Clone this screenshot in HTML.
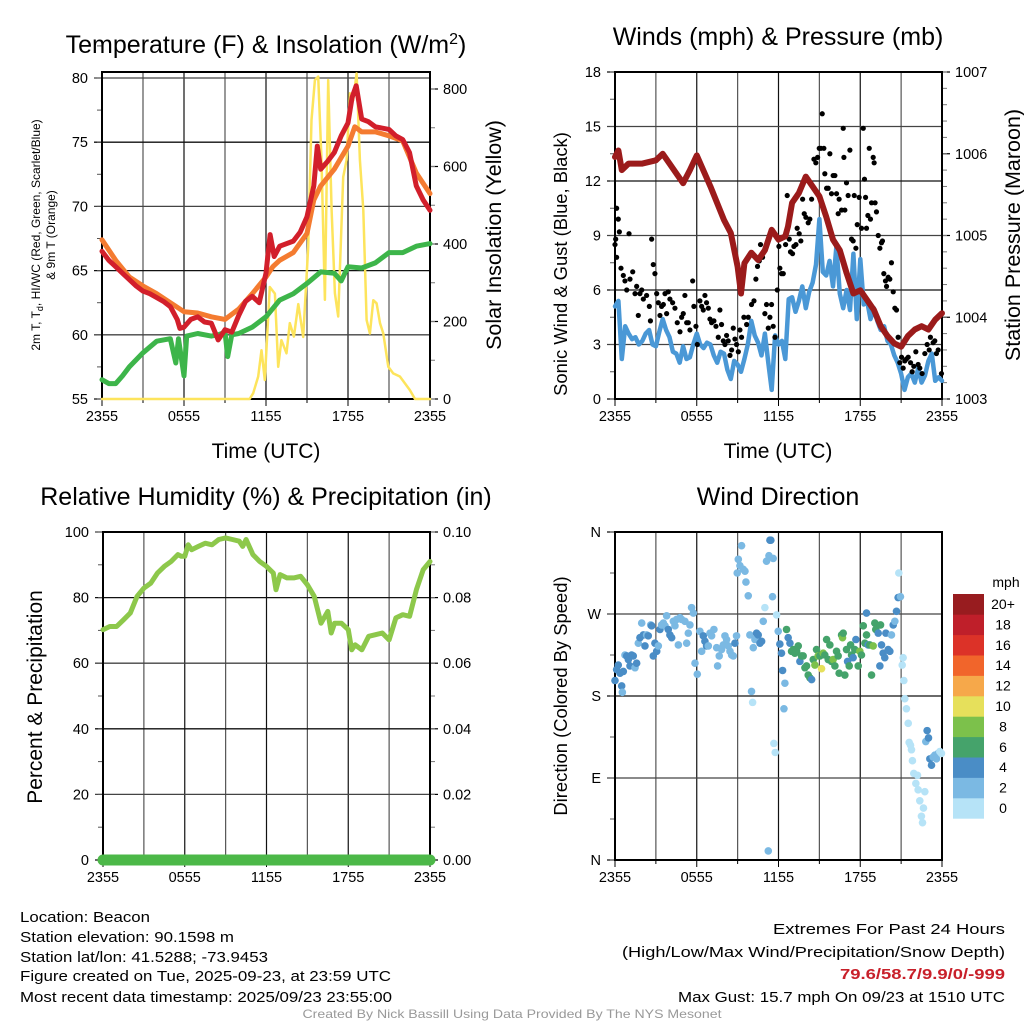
<!DOCTYPE html>
<html><head><meta charset="utf-8"><style>
html,body{margin:0;padding:0;background:#fff;}
svg{display:block;font-family:"Liberation Sans",Arial,sans-serif;}
</style></head><body>
<svg id="fig" xmlns="http://www.w3.org/2000/svg" width="1024" height="1024" viewBox="0 0 1024 1024">
<rect x="0" y="0" width="1024" height="1024" fill="#fff"/>
<g id="layer"></g>
<!-- titles -->
<text x="266" y="53" font-size="25" text-anchor="middle">Temperature (F) &amp; Insolation (W/m<tspan dy="-9" font-size="16">2</tspan><tspan dy="9">)</tspan></text>
<text x="778" y="45" font-size="25" text-anchor="middle">Winds (mph) &amp; Pressure (mb)</text>
<text x="266" y="505" font-size="25" text-anchor="middle">Relative Humidity (%) &amp; Precipitation (in)</text>
<text x="778" y="505" font-size="25" text-anchor="middle">Wind Direction</text>
<!-- axis titles -->
<text x="266" y="458" font-size="21" text-anchor="middle">Time (UTC)</text>
<text x="778" y="458" font-size="21" text-anchor="middle">Time (UTC)</text>
<text transform="translate(40,235) rotate(-90)" font-size="12" text-anchor="middle">2m T, T<tspan dy="3" font-size="9">d</tspan><tspan dy="-3">, HI/WC (Red, Green, Scarlet/Blue)</tspan></text>
<text transform="translate(55,235) rotate(-90)" font-size="12" text-anchor="middle">&amp; 9m T (Orange)</text>
<text transform="translate(501,235) rotate(-90)" font-size="21.5" text-anchor="middle">Solar Insolation (Yellow)</text>
<text transform="translate(567,264) rotate(-90)" font-size="18.4" text-anchor="middle">Sonic Wind &amp; Gust (Blue, Black)</text>
<text transform="translate(1020,235) rotate(-90)" font-size="21.5" text-anchor="middle">Station Pressure (Maroon)</text>
<text transform="translate(42,697) rotate(-90)" font-size="21" text-anchor="middle">Percent &amp; Precipitation</text>
<text transform="translate(567,696) rotate(-90)" font-size="18.4" text-anchor="middle">Direction (Colored By Speed)</text>
<!-- colorbar label -->
<text x="1006" y="587" font-size="14" text-anchor="middle">mph</text>
<!-- footer -->
<g font-size="15">
<text x="20" y="922" textLength="130" lengthAdjust="spacingAndGlyphs">Location: Beacon</text>
<text x="20" y="942" textLength="214" lengthAdjust="spacingAndGlyphs">Station elevation: 90.1598 m</text>
<text x="20" y="962" textLength="248" lengthAdjust="spacingAndGlyphs">Station lat/lon: 41.5288; -73.9453</text>
<text x="20" y="981" textLength="371" lengthAdjust="spacingAndGlyphs">Figure created on Tue, 2025-09-23, at 23:59 UTC</text>
<text x="20" y="1002" textLength="372" lengthAdjust="spacingAndGlyphs">Most recent data timestamp: 2025/09/23 23:55:00</text>
</g>
<g font-size="15" text-anchor="end">
<text x="1005" y="934" textLength="232" lengthAdjust="spacingAndGlyphs">Extremes For Past 24 Hours</text>
<text x="1005" y="957" textLength="383" lengthAdjust="spacingAndGlyphs">(High/Low/Max Wind/Precipitation/Snow Depth)</text>
<text x="1005" y="979" textLength="165" lengthAdjust="spacingAndGlyphs" fill="#c8202a" font-weight="bold">79.6/58.7/9.9/0/-999</text>
<text x="1005" y="1002" textLength="327" lengthAdjust="spacingAndGlyphs">Max Gust: 15.7 mph On 09/23 at 1510 UTC</text>
</g>
<text x="512" y="1018" font-size="12" fill="#999" text-anchor="middle" textLength="419" lengthAdjust="spacingAndGlyphs">Created By Nick Bassill Using Data Provided By The NYS Mesonet</text>
</svg>
<script>
// ---------------- DATA ----------------
const xTickLabels = ["2355","0555","1155","1755","2355"];
const tempTicks = [55,60,65,70,75,80];
const insolTicks = [0,200,400,600,800];
const windTicks = [0,3,6,9,12,15,18];
const presTicks = [1003,1004,1005,1006,1007];
const rhTicks = [0,20,40,60,80,100];
const precipTickLabels = ["0.00","0.02","0.04","0.06","0.08","0.10"];
const dirTicks = [0,90,180,270,360];
const dirTickLabels = ["N","E","S","W","N"];
const speedBins = ["0","2","4","6","8","10","12","14","16","18","20+"];
const speedColors = ["#b6e3f7","#7bb9e3","#4a8dc6","#45a36b","#7cc14b","#e6e05b","#f6a84a","#f1652b","#dc3228","#bf1f2a","#981c1f"];

const tempHours = [0,0.5,1,1.5,2,2.5,3,3.5,4,4.5,5,5.5,5.7,6,6.5,7,7.5,8,8.5,9,9.5,10,10.5,11,11.5,12,12.3,12.6,13,14,14.5,15,15.5,15.75,16,16.5,17,17.5,18,18.3,18.6,19,19.5,20,21,21.5,22,22.5,23,23.5,24];
const tempValues = [66.5,65.8,65.3,64.8,64.3,63.8,63.4,63.2,62.9,62.6,62.2,61.2,60.5,60.6,61.2,61.4,61.0,60.9,59.6,60.4,60.2,61.5,62.6,63.0,62.5,64.8,67.8,66.1,66.9,67.3,68.0,69.2,71.6,74.7,72.9,73.5,74.2,75.5,76.5,78.5,79.4,76.8,76.6,76.2,76.0,75.5,75.2,74.2,71.6,70.5,69.7];
const temp9Hours = [0,1,2,3,4,5,6,7,8,9,10,11,12,12.5,13,14,15,15.5,16,17,18,18.5,19,20,21,22,23,24];
const temp9Values = [67.4,65.8,64.5,63.8,63.2,62.5,61.8,61.7,61.4,61.2,62.0,63.2,64.5,65.3,65.8,66.4,67.9,70.5,71.6,72.9,74.7,76.2,75.8,75.8,75.5,75.1,72.6,71.0];
const dewHours = [0,0.5,1,1.5,2,3,4,5,5.4,5.6,6,6.2,7,8,8.5,9,9.2,9.5,10,11,12,13,14,15,16,17,17.5,18,19,20,21,22,23,24];
const dewValues = [56.5,56.2,56.2,56.8,57.5,58.6,59.5,59.7,57.8,59.7,56.8,59.9,60.1,59.9,60.0,60.2,58.3,60.0,60.1,60.6,61.4,62.7,63.2,64.0,64.9,64.8,64.2,65.3,65.2,65.6,66.4,66.4,66.9,67.1];
const insolHours = [0,10.8,11.06,11.43,11.67,11.91,12.28,12.65,12.89,13.13,13.5,13.74,14.04,14.36,14.72,15.09,15.33,15.58,15.82,16.06,16.31,16.55,16.8,17.04,17.28,17.65,17.9,18.14,18.38,18.63,18.87,19.12,19.36,19.6,19.85,20.09,20.34,20.58,20.95,21.31,21.8,22.53,22.9,24];
const insolValues = [0,0,15,58,126,49,289,272,83,152,118,196,161,245,160,392,720,823,832,617,256,823,488,273,213,573,617,789,771,840,617,488,204,169,255,247,196,169,83,66,58,23,0,0];

const windSpeed = [5.1,5.4,2.2,4.0,3.6,3.3,3.4,3.0,
3.2,3.6,3.8,3.0, 2.9,3.7,4.4,3.8, 3.4,2.6,2.5,2.0, 2.9,2.2,2.3,3.0,
3.6,3.0,2.8,3.1, 3.0,2.4,2.0,2.6, 2.5,1.6,1.1,2.1, 1.9,1.5,2.2,3.0,
4.3,3.5,3.1,2.4, 3.6,2.0,0.5,3.5, 3.0,3.2,2.2,5.5, 5.6,4.8,5.4,6.2,
5.0,5.9,6.4,7.4, 9.9,7.0,6.8,7.6, 6.2,8.4,5.8,5.0, 6.0,4.9,8.0,4.4,
7.7,5.2,5.4,4.4, 5.0,4.3,3.8,4.0, 3.2,3.0,2.4,2.0, 1.4,0.5,1.2,1.4,
0.9,1.7,0.9,1.3, 2.1,2.5,1.0,1.2, 1.0];
const windStepHours = 0.25;

const gustHours = [0,0.05,0.12,0.24,0.32,0.12,0.44,0.61,0.73,0.86,
1.03,1.1,1.3,1.47,1.59,1.71,1.83,1.96,2.08,2.32,
2.52,2.6,2.69,2.81,2.93,3.06,3.18,3.3,3.42,3.55,
3.67,3.79,3.91,4.03,4.23,4.4,4.57,4.77,4.89,5.01,
5.13,5.26,5.38,5.5,5.7,5.79,5.94,6.04,6.23,6.36,
6.48,6.6,6.72,6.85,6.97,7.09,7.26,7.41,7.58,7.7,
7.82,7.95,8.07,8.19,8.31,8.44,8.56,8.68,8.8,8.92,
9.05,9.17,9.29,9.46,9.66,9.78,10.02,10.2,10.34,10.46,
10.59,10.68,10.83,11.0,11.12,11.25,11.37,11.49,11.61,11.74,
11.91,12.03,12.1,12.22,12.35,12.52,12.64,12.79,12.88,13.03,
13.13,13.28,13.37,13.52,13.64,13.77,13.89,14.01,14.18,14.3,
14.43,14.6,14.74,14.87,14.99,15.11,15.21,15.33,15.4,15.53,
15.65,15.77,15.89,16.01,16.14,16.26,16.38,16.45,16.63,16.75,
16.8,16.87,16.99,17.11,17.24,17.36,17.48,17.56,17.68,17.78,
17.92,18.09,18.22,18.31,18.39,18.46,18.56,18.66,18.75,18.83,
18.95,19.02,19.09,19.19,19.32,19.44,19.56,19.63,19.73,19.85,
19.93,20.05,20.17,20.29,20.42,20.54,20.66,20.78,20.9,21.03,
21.15,21.27,21.39,21.52,21.69,21.81,21.93,22.08,22.25,22.37,
22.54,22.74,22.91,23.06,23.15,23.35,23.47,23.59,23.72,23.96];
const gustValues = [8.5,8.8,10.5,9.9,9.2,7.8,7.2,6.8,6.5,6.0,
9.1,6.6,7.0,5.8,6.2,4.6,5.8,6.0,5.5,5.7,
5.1,4.3,8.8,7.4,6.9,5.8,5.3,4.6,5.1,5.2,
5.8,4.7,5.9,5.5,5.3,5.0,4.2,3.7,4.5,4.7,
5.7,4.2,4.2,3.8,6.5,5.1,4.0,3.0,5.4,5.1,
4.9,5.7,5.3,5.0,4.4,4.2,4.3,4.0,3.4,4.9,
4.1,3.2,3.0,3.5,3.2,2.4,2.7,3.9,3.3,3.0,
2.6,3.8,3.4,4.5,4.1,4.5,5.2,5.4,6.6,7.3,
7.6,8.5,7.8,4.7,5.2,3.9,4.5,5.2,4.0,3.4,
6.0,8.4,7.2,6.9,6.9,8.5,11.2,8.8,8.1,8.0,
8.4,8.5,9.4,9.1,8.7,11.0,10.2,10.0,9.7,9.9,
11.0,13.2,13.0,13.3,13.8,13.8,15.7,13.8,12.4,11.6,
11.6,13.5,11.3,12.3,12.3,11.3,10.2,11.0,10.4,14.9,
13.3,10.4,11.9,11.2,13.7,8.8,8.7,11.2,8.3,9.6,
11.1,9.4,14.9,12.1,11.1,9.4,10.1,13.8,9.9,10.8,
13.3,13.0,10.8,10.3,9.0,8.3,8.6,8.7,6.9,6.5,
6.2,6.7,6.6,7.5,5.9,5.0,4.9,3.4,2.0,2.3,
1.7,2.1,2.2,2.3,2.0,1.5,1.8,2.6,1.9,1.7,
1.4,2.5,3.0,2.7,3.4,3.1,3.2,2.5,2.7,1.4];

const presHours = [0,0.25,0.5,1,2,3,3.5,4,5,5.5,6,7,8,8.5,9,9.25,9.5,10,10.5,11,11.5,12,12.5,12.7,13,13.5,14,14.5,15,15.5,16,16.5,17,17.5,18,18.5,19,19.5,20,20.5,21,21.5,22,22.5,23,23.5,24];
const presValues = [1005.96,1006.04,1005.8,1005.88,1005.88,1005.92,1006.0,1005.88,1005.64,1005.8,1005.98,1005.6,1005.19,1005.03,1004.62,1004.29,1004.66,1004.79,1004.7,1004.82,1005.07,1004.95,1004.99,1005.11,1005.4,1005.52,1005.72,1005.6,1005.48,1005.23,1004.95,1004.82,1004.54,1004.29,1004.33,1004.21,1004.09,1003.89,1003.77,1003.68,1003.64,1003.77,1003.85,1003.89,1003.85,1003.97,1004.05];

const rhHours = [0,0.5,1,1.5,2,2.5,3,3.5,4,4.5,5,5.5,5.75,6,6.25,6.5,7,7.5,8,8.5,9,9.5,10,10.25,10.5,11,11.5,12,12.5,12.7,13,13.5,14,14.5,15,15.5,16,16.5,16.75,17,17.5,18,18.25,18.5,19,19.5,20,20.5,21,21.5,22,22.5,23,23.5,24];
const rhValues = [70.2,71.2,71.2,73.2,75.3,80.4,82.9,84.4,87.5,89.5,91.0,93.1,92.6,92.6,96.1,94.6,95.6,96.6,96.1,97.7,98.2,97.7,97.2,95.6,97.7,93.1,91.0,89.5,87.5,82.4,87.0,86.0,86.0,86.5,83.9,80.4,72.2,75.8,69.2,72.2,72.2,70.2,64.1,65.6,64.1,68.2,68.7,69.2,67.1,73.8,74.8,74.3,82.4,88.5,91.0];
const precipHours = [0,24];
const precipValues = [0,0];

const dirHours = [0,0.12,0.24,0.37,0.49,0.54,0.61,0.73,0.86,0.98,
1.1,1.22,1.34,1.47,1.59,1.71,1.83,1.96,2.08,2.2,
2.32,2.44,2.62,2.69,2.81,2.93,3.06,3.18,3.3,3.42,
3.55,3.67,3.79,3.91,4.03,4.16,4.28,4.4,4.52,4.65,
4.77,4.89,5.13,5.26,5.38,5.5,5.62,5.75,5.87,6.04,
6.23,6.36,6.48,6.6,6.72,6.85,6.97,7.09,7.26,7.46,
7.53,7.65,7.82,7.95,8.07,8.19,8.31,8.44,8.56,8.68,
8.8,8.92,8.97,9.05,9.17,9.29,9.41,9.54,9.61,9.78,
9.9,10.02,10.1,10.15,10.27,10.39,10.51,10.64,10.76,10.88,
11.0,11.12,11.25,11.3,11.37,11.44,11.56,11.61,11.66,11.76,
11.86,11.98,12.1,12.22,12.3,12.4,12.47,12.59,12.71,12.84,
12.96,13.08,13.2,13.33,13.45,13.57,13.69,13.81,13.94,14.06,
14.18,14.3,14.43,14.55,14.67,14.79,14.91,15.04,15.16,15.28,
15.4,15.53,15.65,15.77,15.89,16.01,16.14,16.26,16.38,16.45,
16.63,16.7,16.75,16.87,16.99,17.07,17.19,17.29,17.36,17.48,
17.6,17.68,17.85,17.97,18.09,18.22,18.34,18.46,18.46,18.58,
18.7,18.83,18.95,19.07,19.14,19.32,19.44,19.49,19.56,19.68,
19.8,19.88,20.05,20.17,20.29,20.42,20.54,20.66,20.78,20.83,
20.95,21.08,21.15,21.2,21.27,21.39,21.52,21.59,21.69,21.76,
21.83,21.93,22.08,22.2,22.25,22.37,22.49,22.57,22.64,22.74,
22.81,22.91,23.01,23.11,23.23,23.35,23.47,23.59,23.72,23.84,
23.96];
const dirDegrees = [197,209,214,205,191,184,207,225,224,220,
213,225,224,211,216,238,244,260,247,235,
247,246,258,257,224,238,229,235,253,258,
260,257,268,253,247,244,262,257,264,236,
266,264,262,238,249,258,277,271,216,204,
251,229,246,240,235,235,249,246,253,233,
213,224,231,236,246,242,235,229,225,224,
238,246,315,330,323,345,319,317,305,290,
247,185,173,233,242,249,247,238,240,262,
277,328,10,334,351,351,289,331,128,118,
269,251,237,227,208,166,194,253,244,238,
229,231,227,229,235,218,224,224,211,213,
203,200,198,220,214,231,224,224,210,227,
225,242,220,236,218,220,213,229,224,205,
247,244,249,203,231,218,213,236,225,222,
231,242,213,229,225,257,238,271,247,236,
236,203,235,260,253,249,213,258,236,227,
222,249,231,229,247,258,262,273,288,315,
289,214,222,197,177,166,150,129,126,121,
109,95,84,93,77,65,48,41,57,75,
130,142,134,111,104,113,115,111,117,119,
117];
const dirSpeeds = [5,5,5,5,5,3,5,3,5,5,
5,5,5,3,5,3,5,3,5,5,
3,5,3,5,5,5,5,3,5,3,
3,3,3,5,5,5,3,3,3,3,
3,3,3,3,3,3,3,3,3,3,
3,3,5,5,5,3,3,3,3,3,
3,3,3,3,3,3,3,3,3,3,
5,3,3,3,3,3,3,3,3,3,
3,3,1,3,3,5,5,5,5,3,
1,3,3,3,5,5,3,3,1,1,
1,3,5,5,5,3,3,7,5,5,
7,7,7,7,7,5,7,7,7,7,
7,7,5,7,9,7,9,7,10.5,9,
7,7,7,7,7,9,7,7,7,7,
7,9,7,7,7,5,7,7,7,5,
7,5,7,9,7,7,7,5,7,5,
7,7,9,7,7,5,5,7,5,5,
5,5,5,5,3,5,3,5,5,1,
3,1,1,1,1,1,1,1,1,1,
1,1,1,1,1,1,1,1,1,1,
3,5,5,5,5,3,3,3,3,1,
1];

// ---------------- HELPERS ----------------
const NS = "http://www.w3.org/2000/svg";
const layer = document.getElementById("layer");
function mk(tag, parent){ const e = document.createElementNS(NS, tag); (parent||layer).appendChild(e); return e; }
function setA(e, o){ for (const k in o) e.setAttribute(k, o[k]); return e; }
function linScale(d0,d1,r0,r1){ return v => r0 + (v-d0)/(d1-d0)*(r1-r0); }
function pathFrom(xs, ys, sx, sy){ let d=""; for(let i=0;i<xs.length;i++){ d += (i?"L":"M")+sx(xs[i]).toFixed(1)+","+sy(ys[i]).toFixed(1);} return d; }
function colorFor(s){ let i=Math.floor(s/2); if(i<0)i=0; if(i>10)i=10; return speedColors[i]; }

function drawFrame(p){
  const g = mk("g");
  
  
  for (let h=0; h<=24; h+=3){
    const l = mk("line", g); const x = p.sx(h);
    setA(l,{x1:x,x2:x,y1:p.top,y2:p.bottom,stroke:(h%6===0)?"#111":"#555","stroke-width":(h===0||h===24)?2:1.2});
    
    
    const t = mk("line", g);
    setA(t,{x1:x,x2:x,y1:p.bottom,y2:p.bottom+(h%6===0?7:4),stroke:"#000","stroke-width":1});
    
    
  }
  xTickLabels.forEach((lab,i)=>{
    const t = mk("text", g);
    setA(t,{x:p.sx(i*6),y:p.bottom+22,"font-size":14.5,"text-anchor":"middle"});
    t.textContent = lab;
    
    
  });
  p.lticks.forEach((v,i)=>{
    const y = p.sy(v);
    const l = mk("line", g);
    setA(l,{x1:p.left-8,x2:p.right,y1:y,y2:y,stroke:(i%2)?"#444":"#111","stroke-width":1.3});
    
    
    const t = mk("text", g);
    setA(t,{x:p.left-14,y:y+5,"font-size":14.5,"text-anchor":"end"});
    t.textContent = p.llabels ? p.llabels[i] : String(v);
    
    
  });
  for (let v=p.lmin; v<=p.lmax+1e-9; v+=p.lminor){
    const y=p.sy(v); const l=mk("line",g);
    setA(l,{x1:p.left-5,x2:p.left,y1:y,y2:y,stroke:"#555","stroke-width":1});
    
    
  }
  if (p.ry){
    p.rticks.forEach((v,i)=>{
      const y=p.ry(v); const l=mk("line",g);
      setA(l,{x1:p.right,x2:p.right+8,y1:y,y2:y,stroke:"#000","stroke-width":1.2});
      
      
      const t=mk("text",g);
      setA(t,{x:p.right+13,y:y+5,"font-size":14.5});
      t.textContent = p.rlabels ? p.rlabels[i] : String(v);
      
      
    });
    for (let v=p.rmin; v<=p.rmax+1e-9; v+=p.rminor){
      const y=p.ry(v); const l=mk("line",g);
      setA(l,{x1:p.right,x2:p.right+5,y1:y,y2:y,stroke:"#777","stroke-width":1});
      
      
    }
  }
  const b = mk("rect", g);
  setA(b,{x:p.left,y:p.top,width:p.right-p.left,height:p.bottom-p.top,fill:"none",stroke:"#000","stroke-width":2});
  
  
  return g;
}
function drawLine(xs, ys, sx, sy, color, w, name){
  const p = mk("path");
  setA(p,{d:pathFrom(xs,ys,sx,sy),fill:"none",stroke:color,"stroke-width":w,"stroke-linejoin":"round","stroke-linecap":"round"});
  
  
  return p;
}

// ---------------- PANEL 1 ----------------
const p1 = {name:"temperature-panel", left:102, right:430, top:72, bottom:399};
p1.sx = linScale(0,24,p1.left,p1.right);
p1.sy = linScale(55,80,399,78);
p1.ry = linScale(0,800,399,89);
p1.lticks = tempTicks; p1.lmin=55; p1.lmax=82.5; p1.lminor=2.5;
p1.rticks = insolTicks; p1.rmin=0; p1.rmax=800; p1.rminor=100;
drawFrame(p1);
drawLine(insolHours, insolValues, p1.sx, p1.ry, "#fde45c", 2.5, "insolation-line");
drawLine(dewHours, dewValues, p1.sx, p1.sy, "#3db54a", 5, "dewpoint-line");
drawLine(temp9Hours, temp9Values, p1.sx, p1.sy, "#f47b30", 5, "temperature-9m-line");
drawLine(tempHours, tempValues, p1.sx, p1.sy, "#d21f2b", 5, "temperature-2m-line");

// ---------------- PANEL 2 ----------------
const p2 = {name:"wind-panel", left:615, right:942, top:72, bottom:399};
p2.sx = linScale(0,24,p2.left,p2.right);
p2.sy = linScale(0,18,399,72);
p2.ry = linScale(1003,1007,399,72);
p2.lticks = windTicks; p2.lmin=0; p2.lmax=18; p2.lminor=1.5;
p2.rticks = presTicks; p2.rmin=1003; p2.rmax=1007; p2.rminor=0.2;
drawFrame(p2);
const windHours = windSpeed.map((_,i)=>i*windStepHours);
drawLine(windHours, windSpeed, p2.sx, p2.sy, "#4a98d6", 4.5, "wind-speed-line");
const gustG = mk("g");


gustHours.forEach((h,i)=>{
  const c = mk("circle", gustG);
  setA(c,{cx:p2.sx(h),cy:p2.sy(gustValues[i]),r:2.6,fill:"#000"});
  
  
});
drawLine(presHours, presValues, p2.sx, p2.ry, "#9b1b1b", 6, "pressure-line");

// ---------------- PANEL 3 ----------------
const p3 = {name:"humidity-panel", left:103, right:430, top:532, bottom:860};
p3.sx = linScale(0,24,p3.left,p3.right);
p3.sy = linScale(0,100,860,532);
p3.ry = linScale(0,0.10,860,532);
p3.lticks = rhTicks; p3.lmin=0; p3.lmax=100; p3.lminor=10;
p3.rticks = [0,0.02,0.04,0.06,0.08,0.10]; p3.rlabels = precipTickLabels; p3.rmin=0; p3.rmax=0.1; p3.rminor=0.01;
drawFrame(p3);
drawLine(rhHours, rhValues, p3.sx, p3.sy, "#8dc84b", 5, "relative-humidity-line");
drawLine(precipHours, precipValues, p3.sx, p3.ry, "#4cb848", 11, "precipitation-line");

// ---------------- PANEL 4 ----------------
const p4 = {name:"direction-panel", left:615, right:942, top:532, bottom:860};
p4.sx = linScale(0,24,p4.left,p4.right);
p4.sy = linScale(0,360,860,532);
p4.lticks = dirTicks; p4.llabels = dirTickLabels; p4.lmin=0; p4.lmax=360; p4.lminor=45;
drawFrame(p4);
const dirG = mk("g");


dirHours.forEach((h,i)=>{
  const c = mk("circle", dirG);
  setA(c,{cx:p4.sx(h),cy:p4.sy(dirDegrees[i]),r:3.8,fill:colorFor(dirSpeeds[i])});
  
  
});

// ---------------- COLORBAR ----------------
const cb = mk("g");


const cbTop = 594, cbH = 20.4;
speedBins.forEach((lab,i)=>{
  const k = speedBins.length-1-i;
  const r = mk("rect", cb);
  setA(r,{x:953,y:cbTop+k*cbH,width:31,height:cbH+0.3,fill:speedColors[i]});
  
  
  const t = mk("text", cb);
  setA(t,{x:1003,y:cbTop+k*cbH+15,"font-size":14,"text-anchor":"middle"});
  t.textContent = lab;
  
  
});
</script>
</body></html>
